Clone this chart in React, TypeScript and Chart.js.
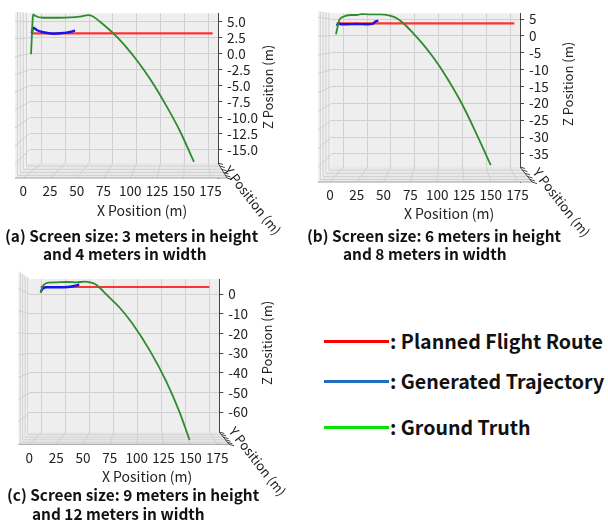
import React, { useEffect, useRef } from "react";
import { Chart, registerables } from "chart.js";

Chart.register(...registerables);

// ---------------- data ----------------
const X_TICKS = [0, 25, 50, 75, 100, 125, 150, 175];
const Z_TICKS_A = [5, 2.5, 0, -2.5, -5, -7.5, -10, -12.5, -15];
const Z_TICKS_B = [5, 0, -5, -10, -15, -20, -25, -30, -35];
const Z_TICKS_C = [0, -10, -20, -30, -40, -50, -60];

// (a) 3 m x 4 m
const PLAN_X_A = [7.2, 177];
const PLAN_Z_A = [3.19, 3.19];
const GEN_X_A = [7.9, 9.3, 12.5, 18.7, 28.0, 37.4, 45.2, 48.3];
const GEN_Z_A = [3.2, 4.07, 3.71, 3.35, 3.13, 3.24, 3.44, 3.66];
const GT_X_A = [7.2, 7.9, 8.8, 9.3, 10.9, 18.7, 34.3, 53.0, 60.7, 63.9, 71.7, 81.0, 87.3, 96.6, 107.5, 118.4, 134.0, 146.4, 159.5];
const GT_Z_A = [-0.08, 2.41, 5.53, 6.15, 5.93, 5.62, 5.62, 5.78, 6.04, 5.93, 5.0, 3.67, 2.66, 0.95, -1.31, -3.9, -8.2, -12.04, -16.84];

// (b) 6 m x 8 m
const PLAN_X_B = [6.25, 172];
const PLAN_Z_B = [3.73, 3.73];
const GEN_X_B = [6.3, 8.4, 10.0, 15.6, 24.9, 34.3, 40.4, 42.0, 45.1];
const GEN_Z_B = [3.01, 3.73, 3.43, 3.43, 3.52, 3.43, 3.61, 4.2, 4.5];
const GT_X_B = [5.6, 6.8, 8.7, 12.4, 18.7, 24.9, 29.6, 37.3, 46.7, 56.0, 62.3, 68.4, 77.7, 86.1, 94.7, 104.5, 122.7, 137.2, 150.0];
const GT_Z_B = [0.47, 2.24, 4.7, 5.68, 6.19, 6.19, 6.48, 6.39, 6.39, 5.98, 5.21, 3.73, 0.76, -2.2, -5.67, -10.1, -19.9, -29.4, -38.3];

// (c) 9 m x 12 m
const PLAN_X_C = [10.6, 167.6];
const PLAN_Z_C = [3.71, 3.71];
const GEN_X_C = [10.6, 12.5, 16.2, 22.3, 31.6, 41.0, 44.1, 46.5];
const GEN_Z_C = [1.17, 2.85, 3.56, 3.56, 3.56, 4.07, 4.58, 4.88];
const GT_X_C = [10.6, 11.8, 13.7, 17.7, 25.5, 34.8, 44.1, 51.8, 56.5, 61.2, 65.8, 72.0, 79.8, 84.4, 95.8, 112.8, 127.6, 139.7, 149.2];
const GT_Z_C = [0.66, 3.2, 4.88, 5.9, 6.1, 6.25, 6.1, 6.41, 6.1, 5.24, 3.2, -0.2, -4.42, -6.96, -14.74, -29.18, -44.43, -59.69, -74.07];

const LEGEND_LABELS = [": Planned Flight Route", ": Generated Trajectory", ": Ground Truth"];

// ---------------- styles ----------------
const FONT = '"Noto Sans CJK JP", "Noto Sans", sans-serif';
const WALL = "#eeeeee";
const SIDE = "#f1f1f1";
const FLOOR = "#e9e9e9";
const GRID = "#d0d0d0";
const C_PLAN = "rgba(255,30,30,0.9)";
const C_GEN = "#1414f0";
const C_GT = "#2e8b2e";
const LEG_COLORS = ["#ff0000", "#1f6fc0", "#00e600"];
const PANE_DEPTH = [0.2, 0.42, 0.63, 0.83];

const zip = (xs: number[], zs: number[]) => xs.map((x, i) => ({ x, y: zs[i] }));

type Cfg = {
  canvas: { x: number; y: number; w: number; h: number };
  area: { l: number; r: number; t: number; b: number };
  backL: number; backB: number; leftTop: number; floorR: number;
  xRange: [number, number]; xgRange: [number, number]; zRange: [number, number];
  zTicks: number[]; zFmt: (v: number) => string;
  plan: [number[], number[]]; gen: [number[], number[]]; gt: [number[], number[]];
  xTitle: [number, number]; zTitle: [number, number]; yTitle: [number, number];
  cap1: [number, number, string]; cap2: [number, number, string];
};

const PANELS: Cfg[] = [
  {
    canvas: { x: 0, y: 0, w: 300, h: 232 },
    area: { l: 15, r: 218, t: 13.3, b: 178 },
    backL: 29.3, backB: 163, leftTop: 11.7, floorR: 227,
    xRange: [-7.76, 182.0], xgRange: [-28.1, 185.5], zRange: [-19.37, 6.31],
    zTicks: Z_TICKS_A, zFmt: (v) => Number(v).toFixed(1),
    plan: [PLAN_X_A, PLAN_Z_A], gen: [GEN_X_A, GEN_Z_A], gt: [GT_X_A, GT_Z_A],
    xTitle: [142, 210], zTitle: [267, 87], yTitle: [253, 200],
    cap1: [5, 235, "(a) Screen size: 3 meters in height"],
    cap2: [43, 253, "and 4 meters in width"],
  },
  {
    canvas: { x: 300, y: 0, w: 308, h: 232 },
    area: { l: 318, r: 520, t: 13.3, b: 182 },
    backL: 331.7, backB: 167, leftTop: 11, floorR: 532,
    xRange: [-11.2, 177.3], xgRange: [-26.6, 185.5], zRange: [-43.3, 6.69],
    zTicks: Z_TICKS_B, zFmt: (v) => String(v),
    plan: [PLAN_X_B, PLAN_Z_B], gen: [GEN_X_B, GEN_Z_B], gt: [GT_X_B, GT_Z_B],
    xTitle: [449, 213], zTitle: [567, 84], yTitle: [562, 202],
    cap1: [307, 235, "(b) Screen size: 6 meters in height"],
    cap2: [343, 253, "and 8 meters in width"],
  },
  {
    canvas: { x: 0, y: 255, w: 300, h: 232 },
    area: { l: 18.3, r: 219.3, t: 279, b: 444.3 },
    backL: 30, backB: 432, leftTop: 271, floorR: 229,
    xRange: [-10.24, 176.9], xgRange: [-24.3, 184.7], zRange: [-76.3, 7.78],
    zTicks: Z_TICKS_C, zFmt: (v) => String(v),
    plan: [PLAN_X_C, PLAN_Z_C], gen: [GEN_X_C, GEN_Z_C], gt: [GT_X_C, GT_Z_C],
    xTitle: [147, 476], zTitle: [266, 343], yTitle: [258, 461],
    cap1: [7, 494, "(c) Screen size: 9 meters in height"],
    cap2: [32, 513, "and 12 meters in width"],
  },
];

type Geo = { backL: number; backB: number; leftTop: number; floorR: number };

function panesPlugin(g: Geo) {
  return {
    id: "panes3d",
    beforeDraw(chart: any) {
      const { ctx, chartArea: a } = chart;
      ctx.save();
      ctx.fillStyle = WALL;
      ctx.fillRect(g.backL, a.top, a.right - g.backL, g.backB - a.top);
      ctx.restore();
    },
    beforeDatasetsDraw(chart: any) {
      const { ctx, chartArea: a, scales } = chart;
      const ys = scales.y, xs = scales.x, xg = scales.xg;
      const line = (x1: number, y1: number, x2: number, y2: number) => {
        ctx.beginPath();
        ctx.moveTo(x1, y1);
        ctx.lineTo(x2, y2);
        ctx.stroke();
      };
      ctx.save();
      ctx.fillStyle = SIDE;
      ctx.beginPath();
      ctx.moveTo(a.left, g.leftTop);
      ctx.lineTo(g.backL, a.top);
      ctx.lineTo(g.backL, g.backB);
      ctx.lineTo(a.left, a.bottom);
      ctx.closePath();
      ctx.fill();
      ctx.fillStyle = FLOOR;
      ctx.beginPath();
      ctx.moveTo(g.backL, g.backB);
      ctx.lineTo(a.right, g.backB);
      ctx.lineTo(g.floorR, a.bottom);
      ctx.lineTo(a.left, a.bottom);
      ctx.closePath();
      ctx.fill();

      ctx.strokeStyle = GRID;
      ctx.lineWidth = 1;
      ys.ticks.forEach((t: any) => {
        const yb = ys.getPixelForValue(t.value);
        if (yb < a.top || yb > g.backB) return;
        const yl = g.leftTop + ((yb - a.top) * (a.bottom - g.leftTop)) / (g.backB - a.top);
        line(a.left, yl, g.backL, yb);
      });
      PANE_DEPTH.forEach((f) => {
        const x = g.backL - f * (g.backL - a.left);
        line(x, a.top + f * (g.leftTop - a.top), x, g.backB + f * (a.bottom - g.backB));
      });
      xg.ticks.forEach((t: any) => {
        line(xg.getPixelForValue(t.value), g.backB, xs.getPixelForValue(t.value), a.bottom);
      });
      PANE_DEPTH.forEach((f) => {
        const y = g.backB + f * (a.bottom - g.backB);
        line(g.backL + f * (a.left - g.backL), y, a.right + f * (g.floorR - a.right), y);
      });
      ctx.strokeStyle = "#a0a0a0";
      line(a.left, a.bottom, g.floorR, a.bottom);
      ctx.strokeStyle = "#444";
      line(a.right, g.backB, g.floorR, a.bottom);
      [0, ...PANE_DEPTH, 1].forEach((f) => {
        const y = g.backB + f * (a.bottom - g.backB);
        const x = a.right + f * (g.floorR - a.right);
        line(x, y, x + 5, y + 1.5);
      });
      ctx.restore();
    },
  };
}

const YW = 40;
const XH = 30;

function Panel({ cfg }: { cfg: Cfg }) {
  const ref = useRef<HTMLCanvasElement>(null);
  useEffect(() => {
    const c = cfg;
    const ox = c.canvas.x, oy = c.canvas.y;
    const left = c.area.l - ox, right = c.area.r - ox, top = c.area.t - oy, bottom = c.area.b - oy;
    const geo = { backL: c.backL - ox, backB: c.backB - oy, leftTop: c.leftTop - oy, floorR: c.floorR - ox };
    const tickFont = { family: FONT, size: 13.5 };
    const chart = new Chart(ref.current as HTMLCanvasElement, {
      type: "line",
      data: {
        datasets: [
          { label: "Ground Truth", data: zip(c.gt[0], c.gt[1]), borderColor: C_GT, borderWidth: 1.8, pointRadius: 0, cubicInterpolationMode: "monotone", order: 0 },
          { label: "Generated Trajectory", data: zip(c.gen[0], c.gen[1]), borderColor: C_GEN, borderWidth: 2.4, pointRadius: 0, cubicInterpolationMode: "monotone", order: 1 },
          { label: "Planned Flight Route", data: zip(c.plan[0], c.plan[1]), borderColor: C_PLAN, borderWidth: 2.2, pointRadius: 0, order: 2 },
        ],
      },
      options: {
        responsive: false,
        animation: false,
        events: [],
        layout: { padding: { left, top, right: c.canvas.w - right - YW, bottom: c.canvas.h - bottom - XH } },
        plugins: { legend: { display: false }, tooltip: { enabled: false } },
        scales: {
          x: {
            type: "linear", position: "bottom", min: c.xRange[0], max: c.xRange[1],
            afterBuildTicks: (s: any) => { s.ticks = X_TICKS.map((v) => ({ value: v })); },
            afterFit: (s: any) => { s.height = XH; },
            grid: { display: false, drawTicks: false },
            border: { display: false },
            ticks: { autoSkip: false, maxRotation: 0, minRotation: 0, padding: 5, color: "#222", font: tickFont },
          },
          xg: {
            type: "linear", position: "bottom", min: c.xgRange[0], max: c.xgRange[1],
            afterBuildTicks: (s: any) => { s.ticks = X_TICKS.map((v) => ({ value: v })); },
            afterFit: (s: any) => { s.height = 0; },
            grid: { color: GRID, drawTicks: false },
            border: { display: false },
            ticks: { display: false },
          },
          y: {
            type: "linear", position: "right", min: c.zRange[0], max: c.zRange[1],
            afterBuildTicks: (s: any) => { s.ticks = c.zTicks.map((v) => ({ value: v })); },
            afterFit: (s: any) => { s.width = YW; },
            grid: { color: GRID, tickColor: "#444", tickLength: 4 },
            border: { color: "#444" },
            ticks: { padding: 5, color: "#222", font: tickFont, callback: (v: any) => c.zFmt(Number(v)) },
          },
        },
      } as any,
      plugins: [panesPlugin(geo)],
    });
    return () => chart.destroy();
  }, [cfg]);
  return (
    <canvas
      ref={ref}
      width={cfg.canvas.w}
      height={cfg.canvas.h}
      style={{ position: "absolute", left: cfg.canvas.x, top: cfg.canvas.y, width: cfg.canvas.w, height: cfg.canvas.h }}
    />
  );
}

function CText({ x, y, text, size, rot = 0 }: { x: number; y: number; text: string; size: number; rot?: number }) {
  return (
    <div
      style={{
        position: "absolute", left: x, top: y, whiteSpace: "nowrap", fontFamily: FONT, fontSize: size,
        fontWeight: 400, color: "#222", lineHeight: 1,
        transform: `translate(-50%, -50%) rotate(${rot}deg)`,
      }}
    >
      {text}
    </div>
  );
}

function LText({ x, y, text, size }: { x: number; y: number; text: string; size: number }) {
  return (
    <div
      style={{
        position: "absolute", left: x, top: y - size * 0.6, height: size * 1.2, lineHeight: `${size * 1.2}px`,
        whiteSpace: "nowrap", fontFamily: FONT, fontSize: size, fontWeight: 700, color: "#111",
      }}
    >
      {text}
    </div>
  );
}

export default function App() {
  const legendY = [341, 381, 427];
  return (
    <div style={{ position: "absolute", left: 0, top: 0, width: 608, height: 520, background: "#fff", overflow: "hidden" }}>
      {PANELS.map((p, i) => (
        <React.Fragment key={i}>
          <Panel cfg={p} />
          <CText x={p.xTitle[0]} y={p.xTitle[1]} text="X Position (m)" size={14} />
          <CText x={p.zTitle[0]} y={p.zTitle[1]} text="Z Position (m)" size={13} rot={-90} />
          <CText x={p.yTitle[0]} y={p.yTitle[1]} text="Y Position (m)" size={13} rot={52} />
          <LText x={p.cap1[0]} y={p.cap1[1]} text={p.cap1[2]} size={15.4} />
          <LText x={p.cap2[0]} y={p.cap2[1]} text={p.cap2[2]} size={15.4} />
        </React.Fragment>
      ))}
      {LEGEND_LABELS.map((t, i) => (
        <React.Fragment key={"l" + i}>
          <div style={{ position: "absolute", left: 324, top: legendY[i] - 1.5, width: 65, height: 3, background: LEG_COLORS[i] }} />
          <LText x={390} y={legendY[i]} text={t} size={19.6} />
        </React.Fragment>
      ))}
    </div>
  );
}
